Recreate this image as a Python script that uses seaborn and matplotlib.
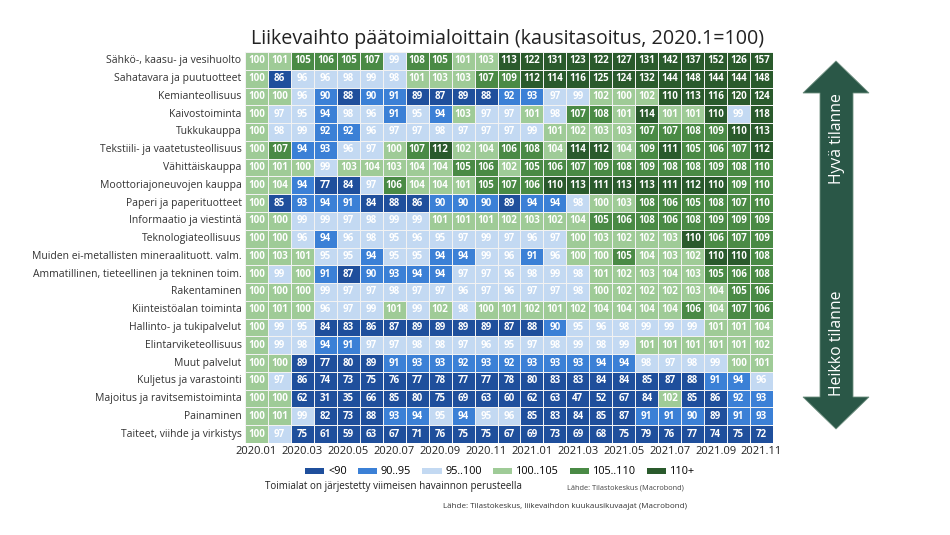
import numpy as np
import pandas as pd
import matplotlib
matplotlib.use("Agg")
import matplotlib.pyplot as plt
import seaborn as sns
from matplotlib.colors import ListedColormap, BoundaryNorm
from matplotlib.patches import Patch, Polygon

# ---------------- data ----------------
industries = [
    'Sähkö-, kaasu- ja vesihuolto',
    'Sahatavara ja puutuotteet',
    'Kemianteollisuus',
    'Kaivostoiminta',
    'Tukkukauppa',
    'Tekstiili- ja vaatetusteollisuus',
    'Vähittäiskauppa',
    'Moottoriajoneuvojen kauppa',
    'Paperi ja paperituotteet',
    'Informaatio ja viestintä',
    'Teknologiateollisuus',
    'Muiden ei-metallisten mineraalituott. valm.',
    'Ammatillinen, tieteellinen ja tekninen toim.',
    'Rakentaminen',
    'Kiinteistöalan toiminta',
    'Hallinto- ja tukipalvelut',
    'Elintarviketeollisuus',
    'Muut palvelut',
    'Kuljetus ja varastointi',
    'Majoitus ja ravitsemistoiminta',
    'Painaminen',
    'Taiteet, viihde ja virkistys',
]

months = ['2020.01', '2020.02', '2020.03', '2020.04', '2020.05', '2020.06',
          '2020.07', '2020.08', '2020.09', '2020.10', '2020.11', '2020.12',
          '2021.01', '2021.02', '2021.03', '2021.04', '2021.05', '2021.06',
          '2021.07', '2021.08', '2021.09', '2021.10', '2021.11']

# shown rounded; a few cells coloured as just under the bin edge get a decimal
values = [
    [100, 101, 105, 106, 105, 107, 99, 108, 105, 101, 103, 113, 122, 131, 123, 122, 127, 131, 142, 137, 152, 126, 157],
    [100, 86, 96, 96, 98, 99, 98, 101, 103, 103, 107, 109, 112, 114, 116, 125, 124, 132, 144, 148, 144, 144, 148],
    [100, 100, 96, 90, 88, 90, 91, 89, 87, 89, 88, 92, 93, 97, 99, 102, 100, 102, 110, 113, 116, 120, 124],
    [100, 97, 95, 94, 98, 96, 91, 95, 94, 103, 97, 97, 101, 98, 107, 108, 101, 114, 101, 101, 110, 99, 118],
    [100, 98, 99, 92, 92, 96, 97, 97, 98, 97, 97, 97, 99, 101, 102, 103, 103, 107, 107, 108, 109, 110, 113],
    [100, 107, 94, 93, 96, 97, 100, 107, 112, 102, 104, 106, 108, 104, 114, 112, 104, 109, 111, 105, 106, 107, 112],
    [100, 101, 100, 99, 103, 104, 103, 104, 104, 105, 106, 102, 105, 106, 107, 109, 108, 109, 108, 108, 109, 108, 109.7],
    [100, 104, 94, 77, 84, 97, 106, 104, 104, 101, 105, 107, 106, 110, 113, 111, 113, 113, 111, 112, 110, 109, 109.7],
    [100, 85, 93, 94, 91, 84, 88, 86, 90, 90, 90, 89, 94, 94, 98, 100, 103, 108, 106, 105, 108, 107, 109.6],
    [100, 100, 99, 99, 97, 98, 99, 99, 101, 101, 101, 102, 103, 102, 104, 105, 106, 108, 106, 108, 109, 109, 109],
    [100, 100, 96, 94, 96, 98, 95, 96, 95, 97, 99, 97, 96, 97, 100, 103, 102, 102, 103, 110, 106, 107, 109],
    [100, 103, 101, 95, 95, 94, 95, 95, 94, 94, 99, 96, 91, 96, 100, 100, 105, 104, 103, 102, 110, 110, 108],
    [100, 99, 100, 91, 87, 90, 93, 94, 94, 97, 97, 96, 98, 99, 98, 101, 102, 103, 104, 103, 105, 106, 108],
    [100, 100, 100, 99, 97, 97, 98, 97, 97, 96, 97, 96, 97, 97, 98, 100, 102, 102, 102, 103, 104, 105, 106],
    [100, 101, 100, 96, 97, 99, 101, 99, 102, 98, 100, 101, 102, 101, 102, 104, 104, 104, 104, 106, 104, 107, 106],
    [100, 99, 95, 84, 83, 86, 87, 89, 89, 89, 89, 87, 88, 90, 95, 96, 98, 99, 99, 99, 101, 101, 104],
    [100, 99, 98, 94, 91, 97, 97, 98, 98, 97, 96, 95, 97, 98, 99, 98, 99, 101, 101, 101, 101, 101, 102],
    [100, 100, 89, 77, 80, 89, 91, 93, 93, 92, 93, 92, 93, 93, 93, 94, 94, 98, 97, 98, 99, 100, 101],
    [100, 97, 86, 74, 73, 75, 76, 77, 78, 77, 77, 78, 80, 83, 83, 84, 84, 85, 87, 88, 91, 94, 96],
    [100, 100, 62, 31, 35, 66, 85, 80, 75, 69, 63, 60, 62, 63, 47, 52, 67, 84, 102, 85, 86, 92, 93],
    [100, 101, 99, 82, 73, 88, 93, 94, 95, 94, 95, 96, 85, 83, 84, 85, 87, 91, 91, 90, 89, 91, 93],
    [100, 97, 75, 61, 59, 63, 67, 71, 76, 75, 75, 67, 69, 73, 69, 68, 75, 79, 76, 77, 74, 75, 72],
]

bin_labels = ['<90', '90..95', '95..100', '100..105', '105..110', '110+']
bin_edges = [0, 90, 95, 100, 105, 110, 1000]
bin_colors = ['#1f4f9c', '#3b80d6', '#c3d9f2', '#9fcb97', '#4a8a45', '#2a5a2c']

df = pd.DataFrame(values, index=industries, columns=months)

# ---------------- figure ----------------
plt.rcParams['font.family'] = ['Open Sans', 'DejaVu Sans']
fig = plt.figure(figsize=(9.5, 5.35), dpi=100)

ax = fig.add_axes([245/950, 1-443/535, 528/950, 391/535])
cmap = ListedColormap(bin_colors)
norm = BoundaryNorm(bin_edges, cmap.N)
sns.heatmap(df, ax=ax, cmap=cmap, norm=norm, cbar=False,
            annot=True, fmt='.0f',
            annot_kws={'color': 'white', 'fontsize': 7, 'fontweight': 'bold'},
            linewidths=0.7, linecolor='#f2f2f2')

ax.set_xticks(np.arange(0, len(months), 2) + 0.5)
ax.set_xticklabels(months[::2], rotation=0, fontsize=8, color='#222222')
ax.set_yticklabels(industries, rotation=0, fontsize=7.5, color='#333333')
ax.tick_params(length=0, pad=2.5)
ax.set_xlabel('')
ax.set_ylabel('')

fig.text(508/950, 1-39/535, 'Liikevaihto päätoimialoittain (kausitasoitus, 2020.1=100)',
         ha='center', va='center', fontsize=14.2, color='#222222')

handles = [Patch(facecolor=c, edgecolor='none', label=l) for c, l in zip(bin_colors, bin_labels)]
fig.legend(handles=handles, loc='center', bbox_to_anchor=(500/950, 1-472/535), ncol=6,
           frameon=False, fontsize=7.8, handlelength=1.8, handleheight=0.45,
           columnspacing=1.0, handletextpad=0.35)

fig.text(265/950, 1-487/535, 'Toimialat on järjestetty viimeisen havainnon perusteella',
         ha='left', va='center', fontsize=7.1, color='#222222')
fig.text(567/950, 1-488/535, 'Lähde: Tilastokeskus (Macrobond)',
         ha='left', va='center', fontsize=5.3, color='#444444')
fig.text(443/950, 1-506/535, 'Lähde: Tilastokeskus, liikevaihdon kuukausikuvaajat (Macrobond)',
         ha='left', va='center', fontsize=5.8, color='#333333')

# double arrow on the right, drawn in pixel space
ov = fig.add_axes([0, 0, 1, 1], zorder=-1)
ov.set_xlim(0, 950)
ov.set_ylim(535, 0)
ov.axis('off')
arrow_pts = [(836, 61), (869, 93), (853, 93), (853, 397), (869, 397), (836, 429),
             (803, 397), (820, 397), (820, 93), (803, 93)]
ov.add_patch(Polygon(arrow_pts, closed=True, facecolor='#2a5747', edgecolor='#6f8f80', lw=0.6))
ov.text(837, 139, 'Hyvä tilanne', rotation=90, ha='center', va='center',
        color='white', fontsize=11.3)
ov.text(837, 343, 'Heikko tilanne', rotation=90, ha='center', va='center',
        color='white', fontsize=11.3)

fig.savefig('out.png', dpi=100)
